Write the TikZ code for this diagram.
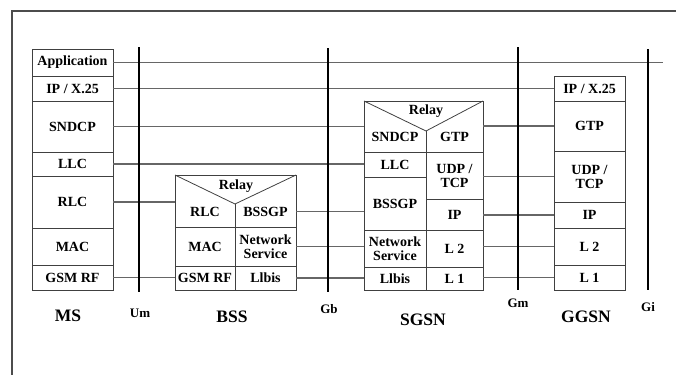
\documentclass[tikz,border=0pt]{standalone}
\usepackage{fontspec}
\setmainfont{Liberation Serif}
\usepackage{tikz}
\usetikzlibrary{positioning, calc}
\tikzset{
    layer/.style={
        rectangle,
        draw=black!75,
        line width=0.8pt,
        inner sep=0pt,
        outer sep=0pt,
        align=center,
        font=\bfseries\fontsize{14}{14}\selectfont
    },
    celltext/.style={
        rectangle,
        inner sep=0pt,
        outer sep=0pt,
        align=center,
        font=\bfseries\fontsize{14}{14}\selectfont
    },
    relayline/.style={
        draw=black!75,
        line width=0.8pt
    },
    link/.style={
        draw=black!60,
        line width=1.1pt
    },
    iface/.style={
        draw=black,
        line width=1.8pt
    },
    entity/.style={
        font=\bfseries\fontsize{17.5}{18}\selectfont
    },
    ifacelabel/.style={
        font=\bfseries\fontsize{13}{13}\selectfont
    },
    frameline/.style={
        draw=black!70,
        line width=1.3pt
    }
}

\begin{document}
\begin{tikzpicture}[x=1pt, y=-1pt]
\useasboundingbox (0,0) rectangle (676,375);

% Frame
\draw[frameline] (676,11) -- (12,11) -- (12,375);

% MS stack
\node[layer, minimum width=81pt, minimum height=27pt, anchor=north west] (ms_app) at (32,49) {Application};
\node[layer, minimum width=81pt, minimum height=25pt, below=0pt of ms_app] (ms_ip) {IP / X.25};
\node[layer, minimum width=81pt, minimum height=51pt, below=0pt of ms_ip] (ms_sndcp) {SNDCP};
\node[layer, minimum width=81pt, minimum height=24pt, below=0pt of ms_sndcp] (ms_llc) {LLC};
\node[layer, minimum width=81pt, minimum height=52pt, below=0pt of ms_llc] (ms_rlc) {RLC};
\node[layer, minimum width=81pt, minimum height=37pt, below=0pt of ms_rlc] (ms_mac) {MAC};
\node[layer, minimum width=81pt, minimum height=25pt, below=0pt of ms_mac] (ms_rf) {GSM RF};

% BSS stack
\node[layer, minimum width=121pt, minimum height=115pt, anchor=north west] (bss) at (175,175) {};
\node[layer, minimum width=60pt, minimum height=39pt, anchor=north west] (bss_mac) at (175,227) {MAC};
\node[layer, minimum width=61pt, minimum height=39pt, right=0pt of bss_mac] (bss_ns) {Network\\Service};
\node[layer, minimum width=60pt, minimum height=24pt, below=0pt of bss_mac] (bss_rf) {GSM RF};
\node[layer, minimum width=61pt, minimum height=24pt, below=0pt of bss_ns] (bss_llbis) {Llbis};
\node[celltext, minimum width=60pt, minimum height=31pt, above=0pt of bss_mac] (bss_rlc) {RLC};
\node[celltext, minimum width=61pt, minimum height=31pt, above=0pt of bss_ns] (bss_bssgp) {BSSGP};
\coordinate[above=23pt of bss_mac.north east] (bss_apex);
\draw[relayline] (bss.north west) -- (bss_apex) -- (bss.north east);
\draw[relayline] (bss_apex) -- (bss_mac.north east);
\node[celltext] (bss_relay) at (236,186) {Relay};

% SGSN stack
\node[layer, minimum width=119pt, minimum height=189pt, anchor=north west] (sgsn) at (364,101) {};
\node[layer, minimum width=62pt, minimum height=25pt, anchor=north west] (sgsn_llc) at (364,152) {LLC};
\node[layer, minimum width=62pt, minimum height=53pt, below=0pt of sgsn_llc] (sgsn_bssgp) {BSSGP};
\node[layer, minimum width=62pt, minimum height=37pt, below=0pt of sgsn_bssgp] (sgsn_ns) {Network\\Service};
\node[layer, minimum width=62pt, minimum height=23pt, below=0pt of sgsn_ns] (sgsn_llbis) {Llbis};
\node[celltext, minimum width=62pt, minimum height=30pt, above=0pt of sgsn_llc] (sgsn_sndcp) {SNDCP};
\node[layer, minimum width=57pt, minimum height=47pt, anchor=north west] (sgsn_udp) at (426,152) {UDP /\\TCP};
\node[layer, minimum width=57pt, minimum height=31pt, below=0pt of sgsn_udp] (sgsn_ip) {IP};
\node[layer, minimum width=57pt, minimum height=37pt, below=0pt of sgsn_ip] (sgsn_l2) {L 2};
\node[layer, minimum width=57pt, minimum height=23pt, below=0pt of sgsn_l2] (sgsn_l1) {L 1};
\node[celltext, minimum width=57pt, minimum height=30pt, above=0pt of sgsn_udp] (sgsn_gtp) {GTP};
\coordinate[above=21pt of sgsn_llc.north east] (sgsn_apex);
\draw[relayline] (sgsn.north west) -- (sgsn_apex) -- (sgsn.north east);
\draw[relayline] (sgsn_apex) -- (sgsn_llc.north east);
\node[celltext] (sgsn_relay) at (426,111) {Relay};

% GGSN stack
\node[layer, minimum width=71pt, minimum height=25pt, anchor=north west] (ggsn_ip25) at (554,76) {IP / X.25};
\node[layer, minimum width=71pt, minimum height=50pt, below=0pt of ggsn_ip25] (ggsn_gtp) {GTP};
\node[layer, minimum width=71pt, minimum height=51pt, below=0pt of ggsn_gtp] (ggsn_udp) {UDP /\\TCP};
\node[layer, minimum width=71pt, minimum height=26pt, below=0pt of ggsn_udp] (ggsn_ip) {IP};
\node[layer, minimum width=71pt, minimum height=37pt, below=0pt of ggsn_ip] (ggsn_l2) {L 2};
\node[layer, minimum width=71pt, minimum height=25pt, below=0pt of ggsn_l2] (ggsn_l1) {L 1};

% Peer links
\coordinate (app_end) at (663,63);
\draw[link] (ms_app) -- (ms_app -| app_end);
\draw[link] (ms_ip) -- (ms_ip -| ggsn_ip25.west);
\draw[link] (ms_sndcp) -- (ms_sndcp -| sgsn.west);
\draw[link] (ms_llc) -- (ms_llc -| sgsn.west);
\draw[link] (ms_rlc) -- (ms_rlc -| bss.west);
\draw[link] (ms_rf) -- (ms_rf -| bss.west);
\draw[link] (bss_bssgp) -- (bss_bssgp -| sgsn.west);
\draw[link] (bss_ns) -- (bss_ns -| sgsn.west);
\draw[link] (bss_llbis) -- (bss_llbis -| sgsn.west);
\draw[link] (ggsn_gtp) -- (ggsn_gtp -| sgsn.east);
\draw[link] (ggsn_udp) -- (ggsn_udp -| sgsn.east);
\draw[link] (ggsn_ip) -- (ggsn_ip -| sgsn.east);
\draw[link] (ggsn_l2) -- (ggsn_l2 -| sgsn.east);
\draw[link] (ggsn_l1) -- (ggsn_l1 -| sgsn.east);

% Interfaces
\draw[iface] (139,47) -- (139,292);
\draw[iface] (328,48) -- (328,292);
\draw[iface] (518,47) -- (518,290);
\draw[iface] (648,49) -- (648,290);

% Labels
\node[entity] (ms_label) at (68,316) {MS};
\node[ifacelabel] (um_label) at (140,313) {Um};
\node[entity] (bss_label) at (232,317) {BSS};
\node[ifacelabel] (gb_label) at (329,309) {Gb};
\node[entity] (sgsn_label) at (423,320) {SGSN};
\node[ifacelabel] (gm_label) at (518,303) {Gm};
\node[entity] (ggsn_label) at (586,317) {GGSN};
\node[ifacelabel] (gi_label) at (648,307) {Gi};

\end{tikzpicture}
\end{document}
